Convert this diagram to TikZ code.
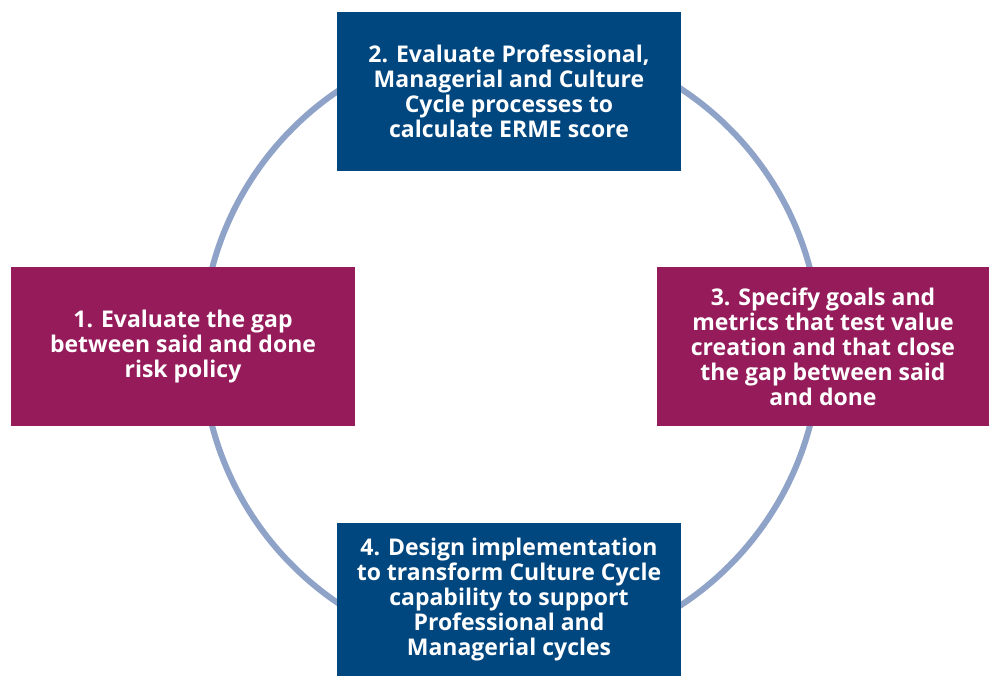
\documentclass[tikz,border=0pt]{standalone}
\usepackage{fontspec}
\setmainfont{Open Sans}

\definecolor{stepblue}{HTML}{00467F}
\definecolor{stepplum}{HTML}{951B5A}
\definecolor{ringblue}{HTML}{8FA3C8}

\begin{document}
\begin{tikzpicture}[x=1pt, y=-1pt,
  every node/.style = {shape=rectangle, align=center,
    text=white, font=\fontsize{23}{25}\selectfont\bfseries,
    inner sep=0pt},
  bluebox/.style = {fill=stepblue, minimum width=344pt, minimum height=159pt},
  plumbox/.style = {fill=stepplum, minimum height=159pt}]
  \useasboundingbox (0,0) rectangle (989,676);
  \draw[ringblue, line width=6pt] (511,347) circle [radius=309];
  \node[bluebox] (evalcycles) at (509,91.5)
    {2. Evaluate Professional,\\Managerial and Culture\\Cycle processes to\\calculate ERME score};
  \node[plumbox, minimum width=344pt] (evalgap) at (183,346.5)
    {1. Evaluate the gap\\between said and done\\risk policy};
  \node[plumbox, minimum width=332pt] (goals) at (823,346.5)
    {3. Specify goals and\\metrics that test value\\creation and that close\\the gap between said\\and done};
  \node[bluebox, minimum height=153pt] (design) at (509,599.5)
    {4. Design implementation\\to transform Culture Cycle\\capability to support\\Professional and\\Managerial cycles};
\end{tikzpicture}
\end{document}
